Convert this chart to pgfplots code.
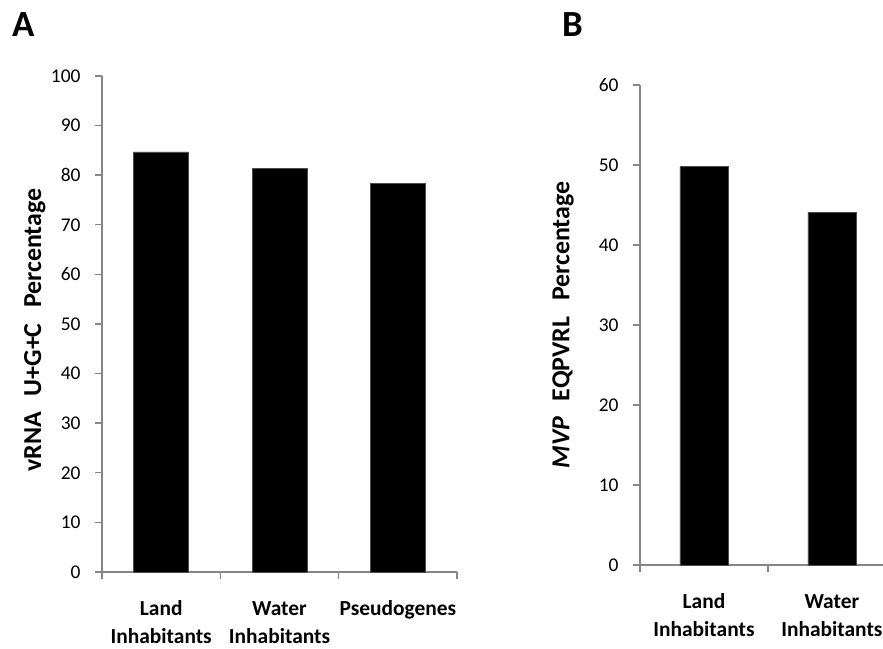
\documentclass[border=0pt]{standalone}
\usepackage{fontspec}
\setmainfont{Carlito}
\usepackage{pgfplots}
\pgfplotsset{compat=1.18}

\definecolor{axisgray}{RGB}{134,134,134}

% shared look of both bar panels
\pgfplotsset{
  panel/.style={
    scale only axis,
    axis lines=left,
    axis line style={-, axisgray, line width=1.6bp},
    tick style={axisgray, line width=1.4bp},
    major tick length=7bp,
    tick align=outside,
    ymin=0, xmin=-0.5,
    ybar,
    enlarge x limits=false,
    clip=false,
    xticklabel=\empty,
    /pgf/number format/assume math mode=true,
    yticklabel style={font=\fontsize{19.5}{23}\selectfont, text=black, xshift=-11bp},
    extra x tick style={
      major tick length=0pt,
      tick label style={align=center, anchor=north, yshift=-20.5bp,
        font=\bfseries\fontsize{21.5}{28}\selectfont, text=black},
    },
    ylabel style={font=\bfseries\fontsize{26}{30}\selectfont, anchor=center, rotate=0},
  },
  panel bars/.style={fill=black, draw=black!70, line width=0.6bp},
}

\begin{document}
\begin{tikzpicture}[x=1bp, y=1bp]
\useasboundingbox (0,0) rectangle (883,649);

% Panel A: vRNA U+G+C content
\begin{axis}[panel,
  at={(102bp,77bp)}, anchor=south west,
  width=355bp, height=496bp,
  xmax=2.5, ymax=100,
  ytick={0,10,...,100},
  xtick={-0.5,0.5,1.5,2.5},
  extra x ticks={0,1,2},
  extra x tick labels={{\strut Land\\Inhabitants},{\strut Water\\Inhabitants},{\strut Pseudogenes}},
  bar width=55bp,
  ylabel={vRNA\hspace{0.6em}U+G+C\hspace{0.6em}Percentage},
  ylabel style={at={(axis description cs:-0.189,0.488)}},
]
\addplot[panel bars] coordinates {(0,84.7) (1,81.3) (2,78.4)};
\end{axis}

% Panel B: MVP EQPVRL content
\begin{axis}[panel,
  at={(640bp,84bp)}, anchor=south west,
  width=243bp, height=480bp,
  xmax=1.4, ymax=60,
  ytick={0,10,...,60},
  xtick={-0.5,0.5},
  extra x ticks={0,1},
  extra x tick labels={{\strut Land\\Inhabitants},{\strut Water\\Inhabitants}},
  bar width=48bp,
  ylabel={\textit{MVP}\hspace{0.6em}EQPVRL\hspace{0.6em}Percentage},
  ylabel style={at={(axis description cs:-0.317,0.5)}},
]
\addplot[panel bars] coordinates {(0,49.8) (1,44.1)};
\end{axis}

\node[anchor=base west, inner sep=0pt, font=\bfseries\fontsize{37}{40}\selectfont] at (12,612) {A};
\node[anchor=base west, inner sep=0pt, font=\bfseries\fontsize{37}{40}\selectfont] at (562,612) {B};
\end{tikzpicture}
\end{document}
